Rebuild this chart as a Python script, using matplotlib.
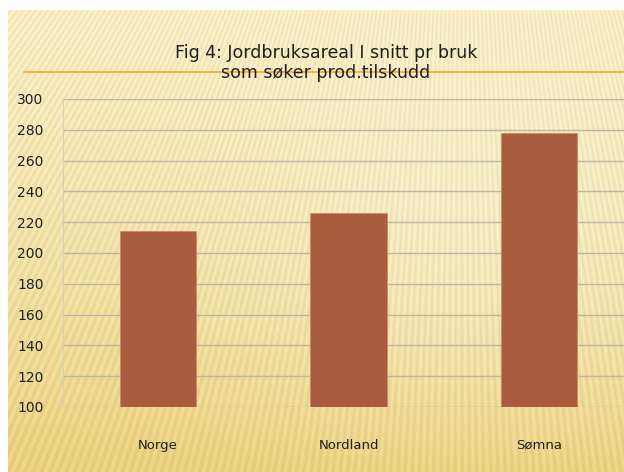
import numpy as np
import matplotlib
matplotlib.use("Agg")
import matplotlib.pyplot as plt

# data
categories = ["Norge", "Nordland", "Sømna"]
values = [214, 226, 278]
y_ticks = list(range(100, 301, 20))
title = "Fig 4: Jordbruksareal I snitt pr bruk\nsom søker prod.tilskudd"

W, H = 624, 472
fig = plt.figure(figsize=(W / 100, H / 100), dpi=100)
fig.patch.set_facecolor("white")

# --- sunburst style background (decoration only) ---
bg_ax = fig.add_axes([8 / W, 0, (W - 8) / W, (H - 10) / H])
bg_ax.set_axis_off()
yy, xx = np.mgrid[0:H - 10, 0:W - 8].astype(float)
xx += 8
yy += 10
top = np.array([254, 243, 200]) / 255
bot = np.array([242, 214, 130]) / 255
t = (yy / H) ** 1.4
img = top[None, None, :] * (1 - t[..., None]) + bot[None, None, :] * t[..., None]
# bright glow around the centre-right
glow = np.exp(-(((xx - 470) / 240) ** 2 + ((yy - 220) / 180) ** 2))
img = img + (np.array([1.0, 0.98, 0.88]) - img) * 0.5 * glow[..., None]
# radiating stripes
cx, cy = 460, -580
ang = np.arctan2(xx - cx, yy - cy)
stripes = 0.5 + 0.5 * np.sin(ang * 2 * np.pi / 0.0068)
img = img * (1 - 0.06 * stripes[..., None])
bg_ax.imshow(np.clip(img, 0, 1), aspect="auto", interpolation="bilinear")

# orange rule behind the title
fig.add_artist(plt.Line2D([24 / W, 1], [1 - 72 / H, 1 - 72 / H],
                          color="#F2B441", lw=1.4, transform=fig.transFigure))

# --- chart ---
left, right_px, top_px, bottom_px = 63, 634, 99, 407
ax = fig.add_axes([left / W, 1 - bottom_px / H,
                   (right_px - left) / W, (bottom_px - top_px) / H])
ax.patch.set_alpha(0)
x = np.arange(len(categories))
ax.bar(x, [v - 100 for v in values], bottom=100, width=0.4,
       color="#A95C3E", edgecolor="#C98A66", linewidth=0.6, zorder=3)
ax.set_xlim(-0.5, len(categories) - 0.5)
ax.set_ylim(100, 300)
ax.set_yticks(y_ticks)
ax.set_xticks(x)
ax.set_xticklabels(categories)
ax.yaxis.grid(True, color="#BDB6A0", lw=1.0, zorder=0)
for s in ["top", "right", "bottom"]:
    ax.spines[s].set_visible(False)
ax.spines["left"].set_color("#D8D0B4")
ax.spines["left"].set_linewidth(0.8)
ax.tick_params(axis="y", length=0, pad=14, labelsize=10, labelcolor="#1E1E1E")
ax.tick_params(axis="x", length=0, pad=23, labelsize=9.5, labelcolor="#1E1E1E")
for lab in ax.get_xticklabels() + ax.get_yticklabels():
    lab.set_fontweight("medium")

fig.text(326 / W, 1 - 63 / H, title, ha="center", va="center",
         fontsize=12.5, color="#1E1E1E", linespacing=1.2,
         family=["Liberation Sans Narrow", "DejaVu Sans"])

fig.savefig("out.png", dpi=100)
